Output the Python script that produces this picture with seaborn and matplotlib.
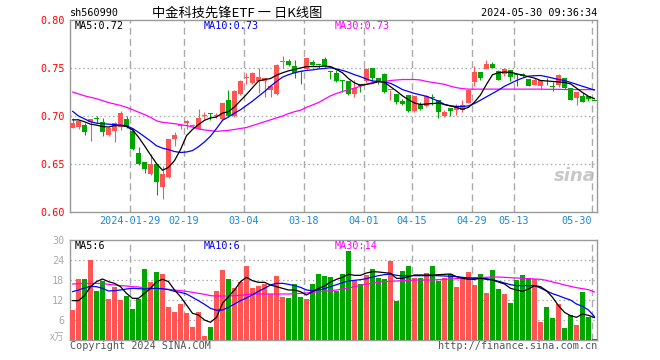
import numpy as np
import pandas as pd
import matplotlib
matplotlib.use('Agg')
import matplotlib.pyplot as plt
import seaborn as sns

# daily candles, 2024-01-15 .. 2024-05-30 (88 trading days)
opens = [0.688, 0.689, 0.691, 0.694, 0.6975, 0.694, 0.680, 0.684, 0.689, 0.697,
         0.684, 0.661, 0.652, 0.640, 0.650, 0.626, 0.636, 0.676, 0.690, 0.693,
         0.690, 0.686, 0.7005, 0.7025, 0.700, 0.697, 0.717, 0.700, 0.723, 0.7395,
         0.734, 0.736, 0.736, 0.727, 0.723, 0.756, 0.757, 0.752, 0.747, 0.749,
         0.756, 0.7535, 0.759, 0.7465, 0.745, 0.737, 0.736, 0.723, 0.733, 0.736,
         0.750, 0.740, 0.744, 0.727, 0.723, 0.716, 0.722, 0.705, 0.712, 0.710,
         0.7195, 0.717, 0.700, 0.708, 0.7066, 0.7066, 0.714, 0.735, 0.746, 0.749,
         0.7545, 0.7465, 0.7441, 0.7483, 0.7441, 0.7441, 0.7385, 0.7326, 0.7309, 0.7375,
         0.7312, 0.7326, 0.7396, 0.7292, 0.7188, 0.7212, 0.7212, 0.7160]
closes = [0.693, 0.695, 0.683, 0.697, 0.6965, 0.683, 0.687, 0.693, 0.703, 0.689,
          0.666, 0.650, 0.645, 0.650, 0.631, 0.640, 0.676, 0.680, 0.6907, 0.695,
          0.6905, 0.698, 0.701, 0.702, 0.701, 0.714, 0.700, 0.726, 0.736, 0.740,
          0.745, 0.741, 0.740, 0.731, 0.753, 0.7565, 0.753, 0.745, 0.746, 0.760,
          0.753, 0.753, 0.752, 0.746, 0.736, 0.7365, 0.723, 0.729, 0.731, 0.749,
          0.740, 0.736, 0.725, 0.7275, 0.715, 0.712, 0.705, 0.721, 0.707, 0.721,
          0.719, 0.704, 0.704, 0.7055, 0.709, 0.7118, 0.7274, 0.746, 0.7392, 0.7545,
          0.7503, 0.7378, 0.749, 0.7406, 0.7427, 0.7413, 0.7316, 0.7372, 0.7378, 0.7370,
          0.7307, 0.7424, 0.7292, 0.717, 0.725, 0.7146, 0.7181, 0.7155]
highs = [0.698, 0.696, 0.693, 0.697, 0.700, 0.698, 0.689, 0.694, 0.705, 0.700,
         0.687, 0.668, 0.652, 0.660, 0.650, 0.648, 0.676, 0.683, 0.692, 0.696,
         0.692, 0.707, 0.704, 0.703, 0.703, 0.714, 0.727, 0.727, 0.737, 0.745,
         0.746, 0.750, 0.740, 0.731, 0.754, 0.763, 0.759, 0.758, 0.747, 0.760,
         0.758, 0.7535, 0.761, 0.7465, 0.748, 0.738, 0.736, 0.738, 0.733, 0.750,
         0.750, 0.740, 0.745, 0.7275, 0.723, 0.718, 0.722, 0.721, 0.715, 0.722,
         0.7225, 0.717, 0.7066, 0.7085, 0.712, 0.717, 0.728, 0.7517, 0.7462, 0.7587,
         0.756, 0.7476, 0.750, 0.7483, 0.7441, 0.7448, 0.7385, 0.7396, 0.7378, 0.7396,
         0.7351, 0.7437, 0.7396, 0.7292, 0.725, 0.724, 0.7212, 0.716]
lows = [0.687, 0.686, 0.680, 0.674, 0.693, 0.679, 0.679, 0.673, 0.685, 0.688,
        0.665, 0.649, 0.641, 0.639, 0.618, 0.614, 0.635, 0.669, 0.686, 0.686,
        0.686, 0.686, 0.697, 0.696, 0.698, 0.696, 0.700, 0.699, 0.722, 0.733,
        0.733, 0.724, 0.720, 0.720, 0.722, 0.750, 0.752, 0.740, 0.733, 0.749,
        0.752, 0.750, 0.751, 0.739, 0.735, 0.725, 0.722, 0.720, 0.725, 0.735,
        0.736, 0.733, 0.724, 0.717, 0.712, 0.711, 0.704, 0.704, 0.706, 0.709,
        0.711, 0.698, 0.6986, 0.700, 0.7014, 0.704, 0.7135, 0.731, 0.7378, 0.749,
        0.7503, 0.7372, 0.742, 0.7368, 0.7316, 0.7406, 0.7309, 0.7319, 0.7285, 0.7326,
        0.7257, 0.7299, 0.7285, 0.7163, 0.7118, 0.7142, 0.7153, 0.7153]

ma5 = [0.696, 0.696, 0.694, 0.6915, 0.6905, 0.689, 0.6885, 0.690, 0.690, 0.689,
       0.6855, 0.678, 0.669, 0.6595, 0.6505, 0.6435, 0.6465, 0.6535, 0.665, 0.6795,
       0.686, 0.691, 0.6955, 0.698, 0.699, 0.703, 0.7045, 0.7095, 0.716, 0.7225,
       0.7295, 0.7365, 0.738, 0.739, 0.7425, 0.745, 0.747, 0.7485, 0.750, 0.7515,
       0.7515, 0.7515, 0.752, 0.7515, 0.7485, 0.745, 0.739, 0.7345, 0.732, 0.733,
       0.734, 0.736, 0.735, 0.7305, 0.726, 0.721, 0.717, 0.7135, 0.712, 0.7125,
       0.713, 0.7135, 0.712, 0.7105, 0.709, 0.707, 0.709, 0.7145, 0.722, 0.733,
       0.743, 0.745, 0.7458, 0.7455, 0.744, 0.7425, 0.741, 0.7395, 0.737, 0.7365,
       0.736, 0.7355, 0.735, 0.7335, 0.729, 0.7245, 0.7205, 0.718]
ma10 = [0.705, 0.700, 0.697, 0.694, 0.6925, 0.692, 0.6915, 0.691, 0.6905, 0.690,
        0.687, 0.683, 0.6785, 0.674, 0.669, 0.6665, 0.665, 0.663, 0.662, 0.6625,
        0.664, 0.668, 0.673, 0.679, 0.687, 0.6955, 0.699, 0.703, 0.7065, 0.711,
        0.7155, 0.7205, 0.7255, 0.731, 0.736, 0.7405, 0.743, 0.745, 0.7465, 0.7475,
        0.748, 0.749, 0.7495, 0.7503, 0.749, 0.7475, 0.7455, 0.743, 0.741, 0.7385,
        0.7365, 0.736, 0.7355, 0.734, 0.731, 0.7275, 0.7255, 0.7235, 0.722, 0.7205,
        0.718, 0.7155, 0.712, 0.7105, 0.710, 0.710, 0.7105, 0.713, 0.7165, 0.720,
        0.7235, 0.727, 0.731, 0.734, 0.737, 0.7395, 0.7415, 0.742, 0.7422, 0.741,
        0.7395, 0.738, 0.737, 0.735, 0.733, 0.731, 0.729, 0.727]
ma30 = [0.725, 0.723, 0.721, 0.7195, 0.718, 0.716, 0.714, 0.7125, 0.711, 0.709,
        0.7066, 0.704, 0.7015, 0.6986, 0.695, 0.6934, 0.6927, 0.692, 0.691, 0.690,
        0.6885, 0.6865, 0.6855, 0.6847, 0.684, 0.6845, 0.685, 0.686, 0.687, 0.688,
        0.690, 0.692, 0.694, 0.696, 0.698, 0.700, 0.7025, 0.7045, 0.706, 0.709,
        0.7115, 0.714, 0.7175, 0.721, 0.7235, 0.7255, 0.7275, 0.729, 0.731, 0.733,
        0.735, 0.7355, 0.736, 0.737, 0.7375, 0.738, 0.738, 0.738, 0.7375, 0.736,
        0.735, 0.734, 0.733, 0.731, 0.7295, 0.7285, 0.728, 0.728, 0.728, 0.728,
        0.728, 0.728, 0.728, 0.728, 0.728, 0.728, 0.728, 0.728, 0.728, 0.7278,
        0.7278, 0.7278, 0.7276, 0.7276, 0.7275, 0.7275, 0.7275, 0.7275]

# volume in 10k lots
volume = [9.0, 18.3, 18.3, 24.0, 14.7, 17.8, 12.3, 16.0, 12.0, 13.2,
          9.3, 12.3, 21.3, 17.4, 20.4, 19.8, 9.9, 8.4, 10.8, 8.1,
          3.9, 8.4, 1.2, 3.9, 14.7, 21.0, 18.4, 15.7, 17.5, 22.2,
          15.7, 16.2, 16.7, 13.7, 19.2, 13.0, 12.7, 16.8, 12.9, 12.3,
          16.8, 19.8, 19.2, 18.8, 14.7, 19.8, 26.7, 17.8, 16.8, 19.5,
          21.3, 18.6, 18.3, 23.8, 11.7, 20.7, 22.2, 18.6, 18.6, 20.1,
          22.2, 17.8, 18.6, 19.8, 15.9, 18.3, 20.4, 16.5, 19.8, 14.1,
          21.0, 15.3, 13.8, 11.1, 18.0, 19.5, 18.6, 18.3, 5.4, 9.9,
          6.6, 10.8, 3.6, 7.5, 4.5, 14.4, 6.9, 0.3]
vma5 = [11.8, 11.8, 13.3, 16.0, 17.5, 18.3, 17.5, 17.0, 16.0, 14.0,
        12.5, 12.5, 14.0, 15.5, 17.5, 18.2, 17.5, 15.0, 13.0, 10.5,
        8.0, 7.5, 6.0, 5.3, 6.8, 11.0, 13.0, 15.0, 17.5, 18.8,
        17.8, 17.3, 17.3, 16.5, 16.0, 15.5, 15.0, 15.0, 14.5, 13.5,
        14.5, 15.5, 16.2, 17.4, 18.2, 18.8, 19.7, 19.4, 19.4, 20.1,
        20.5, 20.4, 20.2, 20.0, 18.5, 18.5, 19.0, 19.5, 19.5, 19.5,
        19.5, 19.6, 19.7, 19.8, 19.0, 18.5, 18.2, 18.2, 18.5, 18.2,
        18.0, 17.4, 16.8, 15.5, 15.0, 14.6, 15.3, 16.3, 16.0, 14.8,
        12.8, 10.3, 8.3, 7.3, 6.8, 7.8, 7.4, 6.7]
vma10 = [14.5, 15.0, 15.6, 16.1, 16.0, 15.5, 14.7, 14.8, 15.0, 15.3,
         15.5, 15.4, 15.3, 15.4, 15.5, 15.4, 15.1, 14.6, 14.3, 13.8,
         12.8, 11.8, 10.7, 9.5, 8.9, 9.0, 9.8, 10.8, 11.8, 12.6,
         13.6, 14.6, 15.5, 16.5, 17.0, 17.0, 16.7, 16.3, 15.8, 15.0,
         14.8, 15.0, 15.4, 16.0, 16.6, 17.2, 17.7, 17.9, 18.1, 18.4,
         18.9, 19.3, 19.6, 19.8, 19.4, 19.2, 19.3, 19.3, 19.3, 19.3,
         19.3, 19.3, 19.2, 19.1, 19.0, 18.8, 18.6, 18.5, 18.5, 18.4,
         18.1, 17.6, 17.1, 16.6, 16.3, 16.3, 16.3, 16.3, 15.6, 14.7,
         13.9, 13.3, 12.6, 12.0, 10.8, 10.1, 9.0, 7.0]
vma30 = [16.8, 16.9, 17.0, 17.0, 17.0, 16.9, 16.7, 16.5, 16.3, 16.2,
         16.0, 15.9, 15.7, 15.5, 15.4, 15.3, 15.2, 15.0, 14.8, 14.6,
         14.3, 14.0, 13.7, 13.3, 13.2, 13.2, 13.2, 13.3, 13.4, 13.6,
         13.8, 13.8, 13.8, 13.8, 13.8, 13.8, 13.8, 13.9, 14.0, 14.1,
         14.3, 14.5, 14.6, 14.8, 15.0, 15.3, 15.6, 16.0, 16.4, 16.8,
         17.0, 17.3, 17.5, 17.6, 17.7, 17.8, 17.9, 18.0, 18.0, 18.0,
         18.0, 18.1, 18.2, 18.3, 18.4, 18.6, 18.7, 18.7, 18.8, 18.8,
         18.9, 18.9, 18.8, 18.7, 18.6, 18.5, 18.4, 18.3, 18.2, 17.9,
         17.4, 17.0, 16.5, 16.1, 15.7, 15.4, 15.1, 14.4]

tick_idx = [10, 19, 29, 39, 49, 57, 67, 74, 87]
tick_labels = ['2024-01-29', '02-19', '03-04', '03-18', '04-01', '04-15', '04-29', '05-13', '05-30']
price_ticks = [0.60, 0.65, 0.70, 0.75, 0.80]
vol_ticks = [6, 12, 18, 24, 30]

RED = '#ff5555'
GREEN = '#00a600'
GRID = '#aaaaaa'
FRAME = '#999999'

sns.set_theme(style='white')
plt.rcParams['font.family'] = ['DejaVu Sans Mono', 'Noto Sans CJK SC']
CJK = ['Noto Sans CJK SC', 'DejaVu Sans']

df = pd.DataFrame({'idx': np.arange(len(opens)), 'open': opens, 'close': closes,
                   'high': highs, 'low': lows, 'volume': volume})
df['color'] = np.where(df['close'] >= df['open'], RED, GREEN)
df['body_low'] = df[['open', 'close']].min(axis=1)
df['body_h'] = (df['close'] - df['open']).abs().clip(lower=0.001)

W, H = 660, 360
fig = plt.figure(figsize=(6.6, 3.6), dpi=100)
ax1 = fig.add_axes([70 / W, 1 - 212 / H, 527 / W, 192 / H])
ax2 = fig.add_axes([70 / W, 1 - 340 / H, 527 / W, 100 / H])

xlo, xhi = -2.5 / 6, 87 + 2.5 / 6
grid_x = [i - 2.5 / 6 for i in tick_idx]

# price panel
ax1.vlines(df['idx'], df['low'], df['high'], colors=df['color'], lw=0.8, zorder=3)
ax1.bar(df['idx'], df['body_h'], bottom=df['body_low'], width=0.83,
        color=df['color'], linewidth=0, zorder=3)
sns.lineplot(x=df['idx'], y=ma30, color='#ff00ff', lw=0.9, ax=ax1, zorder=4)
sns.lineplot(x=df['idx'], y=ma10, color='#0000ff', lw=0.9, ax=ax1, zorder=5)
sns.lineplot(x=df['idx'], y=ma5, color='black', lw=0.9, ax=ax1, zorder=6)

for y in price_ticks[1:-1]:
    ax1.axhline(y, color=GRID, lw=0.9, ls=(0, (1.2, 2.2)), zorder=1)
ax1.vlines(grid_x, 0.60, 0.80, colors=GRID, lw=1.0, ls=(0, (5, 3)), zorder=1)
ax1.set_ylim(0.60, 0.80)
ax1.set_xlim(xlo, xhi)
ax1.set_yticks(price_ticks)
ax1.set_yticklabels([f'{v:.2f}' for v in price_ticks])
ax1.set_xticks(grid_x)
ax1.set_xticklabels(tick_labels)
ax1.tick_params(axis='y', length=0, pad=4, labelsize=7.3, labelcolor='#ff0000')
ax1.tick_params(axis='x', length=0, pad=3, labelsize=7.3, labelcolor='#1a8ad4')
ax1.get_xticklabels()[-1].set_ha('right')
ax1.set_xlabel('')
ax1.set_ylabel('')

# volume panel
ax2.bar(df['idx'], df['volume'], width=0.83, color=df['color'], linewidth=0, zorder=3)
sns.lineplot(x=df['idx'], y=vma30, color='#ff00ff', lw=0.9, ax=ax2, zorder=4)
sns.lineplot(x=df['idx'], y=vma10, color='#0000ff', lw=0.9, ax=ax2, zorder=5)
sns.lineplot(x=df['idx'], y=vma5, color='black', lw=0.9, ax=ax2, zorder=6)
for y in vol_ticks[:-1]:
    ax2.axhline(y, color=GRID, lw=0.9, ls=(0, (1.2, 2.2)), zorder=1)
ax2.vlines(grid_x, 0, 30, colors=GRID, lw=1.0, ls=(0, (5, 3)), zorder=1)
ax2.set_ylim(0, 30)
ax2.set_xlim(xlo, xhi)
ax2.set_yticks(vol_ticks)
ax2.set_yticklabels([str(v) for v in vol_ticks])
ax2.set_xticks([])
ax2.tick_params(axis='y', length=0, pad=4, labelsize=7.3, labelcolor='#aaaaaa')
ax2.set_xlabel('')
ax2.set_ylabel('')

for ax in (ax1, ax2):
    for s in ax.spines.values():
        s.set_visible(True)
        s.set_color(FRAME)
        s.set_linewidth(1.0)
    ax.set_facecolor('white')


def ftext(x, y, s, **kw):
    fig.text(x / W, 1 - y / H, s, va='center', **kw)


# header
ftext(70, 13, 'sh560990', size=7.3, color='black')
ftext(237, 13, '中金科技先锋ETF 一 日K线图', size=9.5, color='black', ha='center', family=CJK)
ftext(597, 13, '2024-05-30 09:36:34', size=7.3, color='black', ha='right')

# moving-average captions
ftext(75, 26, 'MA5:0.72', size=7.3, color='black')
ftext(204, 26, 'MA10:0.73', size=7.3, color='#0000ff')
ftext(335, 26, 'MA30:0.73', size=7.3, color='#ff00ff')
ftext(75, 246, 'MA5:6', size=7.3, color='black')
ftext(204, 246, 'MA10:6', size=7.3, color='#0000ff')
ftext(335, 246, 'MA30:14', size=7.3, color='#ff00ff')

# watermark and footer
ftext(596, 176, 'sina', size=13, color='#bbbbbb', ha='right', weight='bold',
      style='italic', family=['DejaVu Sans'], alpha=0.8)
ftext(64, 337, 'x万', size=7, color='#aaaaaa', ha='right', family=CJK, style='italic')
ftext(70, 346, 'Copyright 2024 SINA.COM', size=7.3, color='#555555')
ftext(597, 346, 'http://finance.sina.com.cn', size=7.3, color='#555555', ha='right')

fig.savefig('out.png', dpi=100, facecolor='white')
